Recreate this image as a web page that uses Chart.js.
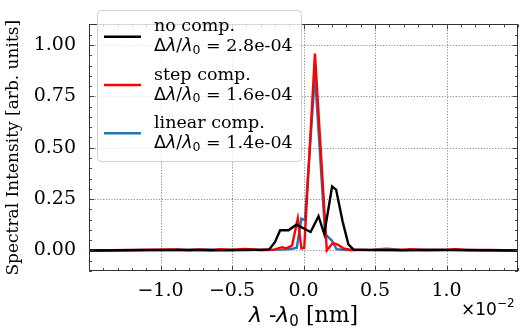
<!DOCTYPE html>
<html>
<head>
<meta charset="utf-8">
<script src="https://cdn.jsdelivr.net/npm/chart.js@4.4.0/dist/chart.umd.min.js"></script>
<style>
  html, body { margin: 0; padding: 0; background: #fff; }
  canvas { display: block; }
</style>
</head>
<body>
<canvas id="c" width="520" height="332"></canvas>
<script>
// ---- data (x in units of 1e-2 nm, y in arb. units) ----
const seriesNames = ['no comp.', 'step comp.', 'linear comp.'];
const seriesResolutions = ['2.8e-04', '1.6e-04', '1.4e-04'];
const seriesColors = ['#000000', '#ff0000', '#1f77b4'];

const noCompX = [-1.5, -1.2, -0.9, -0.6, -0.4, -0.3, -0.24, -0.2, -0.163, -0.105, -0.05, 0.05, 0.105, 0.145, 0.2, 0.228, 0.274, 0.314, 0.35, 0.45, 0.7, 1.0, 1.5];
const noCompY = [0.0, 0.001, 0.002, 0.001, 0.002, 0.003, 0.005, 0.04, 0.098, 0.098, 0.125, 0.09, 0.167, 0.08, 0.311, 0.296, 0.14, 0.03, 0.004, 0.002, 0.001, 0.002, 0.0];

const stepCompX = [-1.5, -1.2, -0.88, -0.8, -0.73, -0.65, -0.58, -0.5, -0.41, -0.3, -0.21, -0.15, -0.12, -0.08, -0.04, -0.015, 0.005, 0.08, 0.163, 0.205, 0.24, 0.28, 0.33, 0.45, 0.6, 0.68, 0.75, 0.85, 1.0, 1.06, 1.15, 1.3, 1.5];
const stepCompY = [0.0, 0.002, 0.005, 0.001, 0.005, 0.001, 0.006, 0.002, 0.007, 0.002, 0.003, 0.016, 0.01, 0.024, 0.155, 0.01, 0.012, 0.958, 0.0, 0.036, 0.028, 0.01, 0.002, 0.003, 0.004, 0.002, 0.006, 0.002, 0.003, 0.006, 0.002, 0.003, 0.0];

const linearCompX = [-1.5, -1.1, -0.85, -0.7, -0.55, -0.4, -0.3, -0.15, -0.08, -0.047, -0.015, 0.01, 0.08, 0.151, 0.198, 0.232, 0.3, 0.45, 0.58, 0.7, 0.85, 1.0, 1.5];
const linearCompY = [0.0, 0.003, 0.002, 0.005, 0.002, 0.005, 0.002, 0.004, 0.008, 0.013, 0.155, 0.147, 0.854, 0.08, 0.048, 0.006, 0.002, 0.003, 0.008, 0.003, 0.004, 0.003, 0.0];

const xTickValues = [-1.0, -0.5, 0.0, 0.5, 1.0];
const xTickLabels = ['\u22121.0', '\u22120.5', '0.0', '0.5', '1.0'];
const yTickValues = [0.0, 0.25, 0.5, 0.75, 1.0];
const yTickLabels = ['0.00', '0.25', '0.50', '0.75', '1.00'];

const xRange = [-1.5, 1.5];
const yRange = [-0.1, 1.1];
const xMinorStep = 0.1;
const yMinorStep = 0.05;

const yTitle = 'Spectral Intensity [arb. units]';
const offsetText = ['\u00d710', '\u22122'];

// ---- helpers ----
const SERIF = '"DejaVu Serif", serif';
const SANS = '"DejaVu Sans", sans-serif';
const toPts = (xs, ys) => xs.map((x, i) => ({ x: x, y: ys[i] }));

function drawParts(ctx, parts, x, y, align) {
  let total = 0;
  parts.forEach(p => { ctx.font = p.font; p.w = ctx.measureText(p.t).width; total += p.w; });
  let cx = align === 'center' ? x - total / 2 : x;
  parts.forEach(p => {
    ctx.font = p.font;
    ctx.textAlign = 'left';
    ctx.fillText(p.t, cx, y + (p.dy || 0));
    cx += p.w;
  });
}

const decorPlugin = {
  id: 'decor',
  beforeDatasetsDraw(chart) {
    const { ctx, chartArea: a, scales: { x, y } } = chart;
    ctx.save();
    ctx.strokeStyle = '#707070';
    ctx.lineWidth = 0.8;
    ctx.setLineDash([1.2, 1.6]);
    xTickValues.forEach(v => {
      const px = Math.round(x.getPixelForValue(v)) + 0.5;
      ctx.beginPath(); ctx.moveTo(px, a.top); ctx.lineTo(px, a.bottom); ctx.stroke();
    });
    yTickValues.forEach(v => {
      const py = Math.round(y.getPixelForValue(v)) + 0.5;
      ctx.beginPath(); ctx.moveTo(a.left, py); ctx.lineTo(a.right, py); ctx.stroke();
    });
    ctx.restore();
  },
  afterDatasetsDraw(chart) {
    const { ctx, chartArea: a, scales: { x, y } } = chart;
    ctx.save();
    ctx.strokeStyle = '#333';
    ctx.lineWidth = 1;
    ctx.setLineDash([]);
    ctx.strokeRect(Math.round(a.left) + 0.5, Math.round(a.top) + 0.5, Math.round(a.right - a.left) - 1, Math.round(a.bottom - a.top) - 1);
    const majorLen = 5, minorLen = 3;
    ctx.lineWidth = 0.9;
    const nx = Math.round((xRange[1] - xRange[0]) / xMinorStep);
    for (let i = 0; i <= nx; i++) {
      const v = xRange[0] + i * xMinorStep;
      const isMajor = xTickValues.some(t => Math.abs(t - v) < 1e-6);
      const len = isMajor ? majorLen : minorLen;
      const px = Math.round(x.getPixelForValue(v)) + 0.5;
      ctx.beginPath();
      ctx.moveTo(px, a.bottom); ctx.lineTo(px, a.bottom - len);
      ctx.moveTo(px, a.top); ctx.lineTo(px, a.top + len);
      ctx.stroke();
    }
    const ny = Math.round((yRange[1] - yRange[0]) / yMinorStep);
    for (let i = 0; i <= ny; i++) {
      const v = yRange[0] + i * yMinorStep;
      const isMajor = yTickValues.some(t => Math.abs(t - v) < 1e-6);
      const len = isMajor ? majorLen : minorLen;
      const py = Math.round(y.getPixelForValue(v)) + 0.5;
      ctx.beginPath();
      ctx.moveTo(a.left, py); ctx.lineTo(a.left + len, py);
      ctx.moveTo(a.right, py); ctx.lineTo(a.right - len, py);
      ctx.stroke();
    }
    // legend
    const lx = 97, ly = 10, lw = 204, lh = 151, r = 4;
    ctx.fillStyle = 'rgba(255,255,255,0.8)';
    ctx.strokeStyle = '#d0d0d0';
    ctx.lineWidth = 1;
    ctx.beginPath();
    ctx.roundRect(lx + 0.5, ly + 0.5, lw, lh, r);
    ctx.fill(); ctx.stroke();
    const rowTop = [26.7, 75, 123.3];
    chart.data.datasets.forEach((ds, i) => {
      const cy = rowTop[i];
      ctx.strokeStyle = ds.borderColor;
      ctx.lineWidth = ds.borderWidth;
      ctx.beginPath();
      ctx.moveTo(104, cy + 10); ctx.lineTo(141, cy + 10);
      ctx.stroke();
      ctx.fillStyle = '#000';
      ctx.textBaseline = 'middle';
      ctx.font = '17.5px ' + SERIF;
      ctx.textAlign = 'left';
      ctx.fillText(seriesNames[i], 154, cy);
      drawParts(ctx, [
        { t: '\u0394', font: '17.5px ' + SANS },
        { t: '\u03bb', font: 'italic 17.5px ' + SANS },
        { t: '/', font: '17.5px ' + SANS },
        { t: '\u03bb', font: 'italic 17.5px ' + SANS },
        { t: '0', font: '12.5px ' + SANS, dy: 4 },
        { t: ' = ' + seriesResolutions[i], font: '17.5px ' + SERIF }
      ], 154, cy + 20, 'left');
    });
    ctx.restore();
  },
  afterDraw(chart) {
    const { ctx, chartArea: a } = chart;
    ctx.save();
    ctx.fillStyle = '#000';
    ctx.textBaseline = 'alphabetic';
    drawParts(ctx, [
      { t: '\u03bb', font: 'italic 22px ' + SANS },
      { t: ' -', font: '22px ' + SERIF },
      { t: '\u03bb', font: 'italic 22px ' + SANS },
      { t: '0', font: '15px ' + SANS, dy: 4 },
      { t: ' [nm]', font: '22px ' + SERIF }
    ], (a.left + a.right) / 2, 322, 'center');
    drawParts(ctx, [
      { t: offsetText[0], font: '17px ' + SANS },
      { t: offsetText[1], font: '12px ' + SANS, dy: -8 }
    ], 461, 315, 'left');
    ctx.translate(14, (a.top + a.bottom) / 2);
    ctx.rotate(-Math.PI / 2);
    ctx.textAlign = 'center';
    ctx.textBaseline = 'middle';
    ctx.font = '17px ' + SERIF;
    ctx.fillText(yTitle, 0, 0);
    ctx.restore();
  }
};

const tickFont = { family: SERIF, size: 19 };

new Chart(document.getElementById('c'), {
  type: 'line',
  data: {
    datasets: [
      { label: seriesNames[0], data: toPts(noCompX, noCompY), borderColor: seriesColors[0], borderWidth: 2.4 },
      { label: seriesNames[1], data: toPts(stepCompX, stepCompY), borderColor: seriesColors[1], borderWidth: 2.4 },
      { label: seriesNames[2], data: toPts(linearCompX, linearCompY), borderColor: seriesColors[2], borderWidth: 2.4 }
    ].map(d => Object.assign(d, { pointRadius: 0, tension: 0, fill: false }))
  },
  options: {
    responsive: false,
    animation: false,
    devicePixelRatio: 1,
    layout: { padding: { top: 3, right: 2, left: 0, bottom: 0 } },
    plugins: { legend: { display: false }, tooltip: { enabled: false } },
    scales: {
      x: {
        type: 'linear', min: xRange[0], max: xRange[1],
        afterBuildTicks: s => { s.ticks = xTickValues.map(v => ({ value: v })); },
        afterFit: s => { s.height = 61; },
        ticks: { callback: (v, i) => xTickLabels[i], font: tickFont, color: '#000', padding: 9, maxRotation: 0, autoSkip: false },
        grid: { display: false, drawTicks: false },
        border: { display: false }
      },
      y: {
        type: 'linear', min: yRange[0], max: yRange[1],
        afterBuildTicks: s => { s.ticks = yTickValues.map(v => ({ value: v })); },
        afterFit: s => { s.width = 89; },
        ticks: { callback: (v, i) => yTickLabels[i], font: tickFont, color: '#000', padding: 13, autoSkip: false },
        grid: { display: false, drawTicks: false },
        border: { display: false }
      }
    }
  },
  plugins: [decorPlugin]
});
</script>
</body>
</html>
